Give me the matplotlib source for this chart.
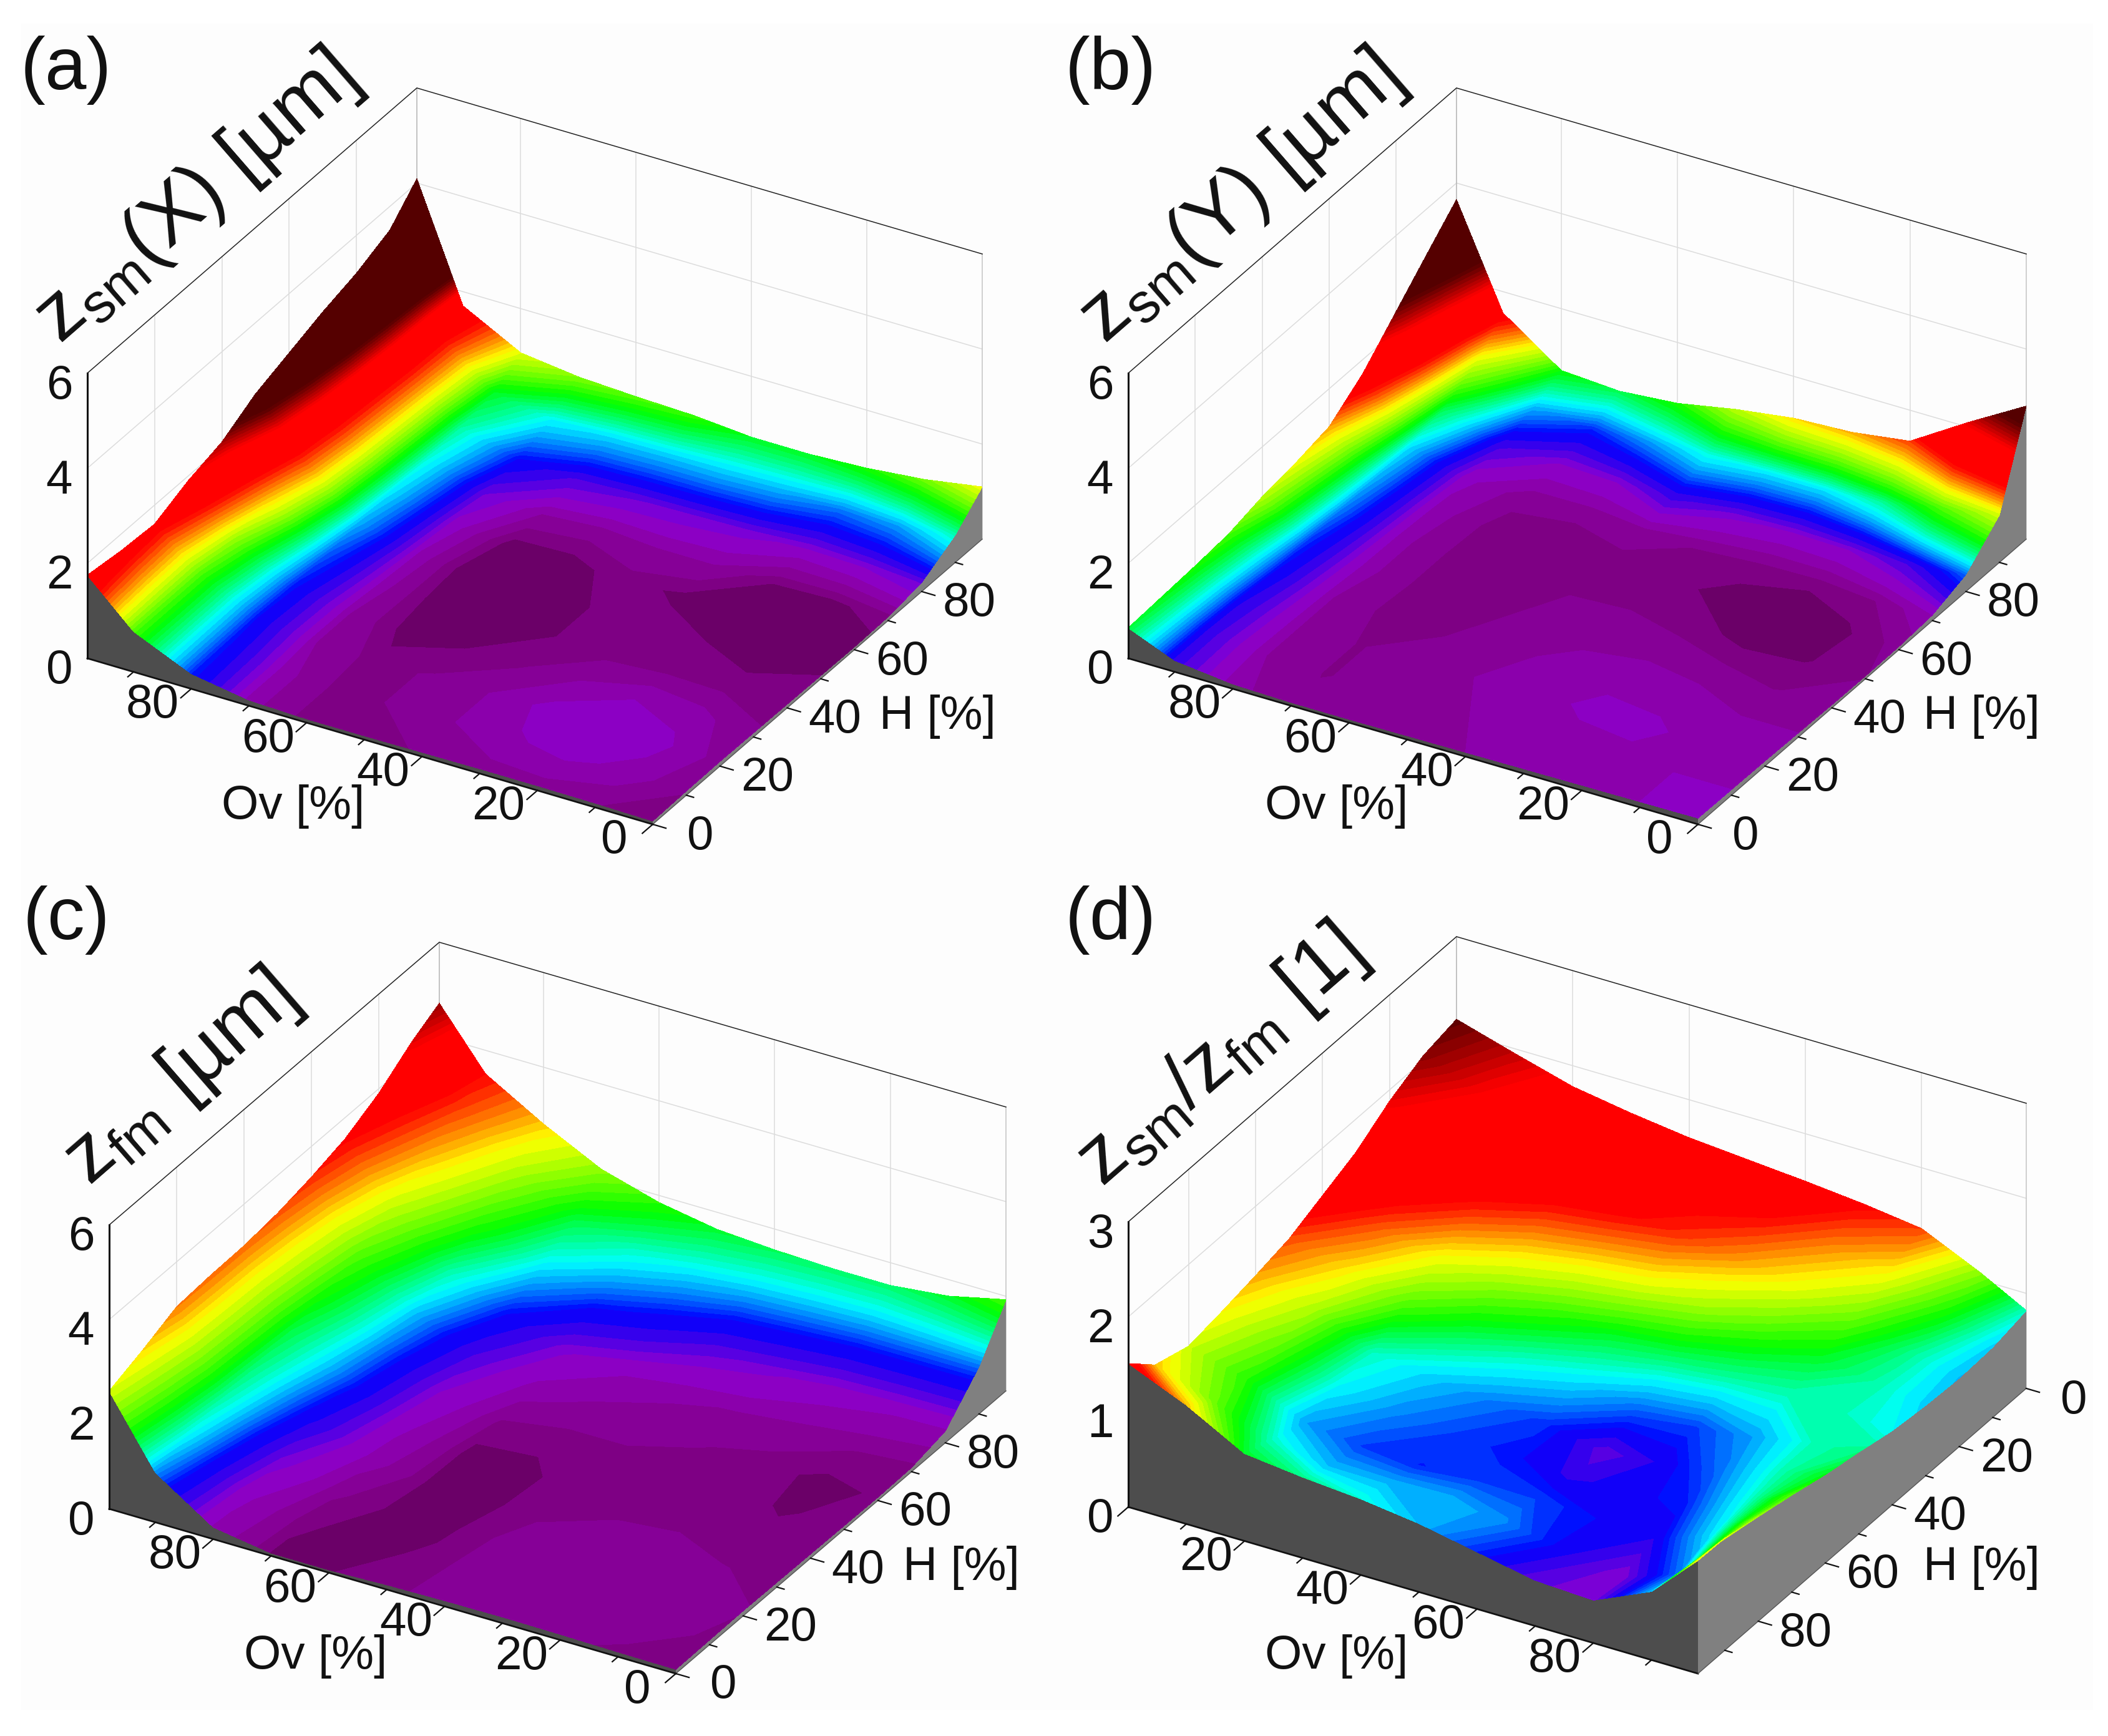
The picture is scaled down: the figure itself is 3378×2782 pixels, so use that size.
from __future__ import annotations

import matplotlib

matplotlib.use("Agg")

import numpy as np
from matplotlib import pyplot as plt
from matplotlib.colors import to_rgb
from matplotlib.patches import Polygon, Rectangle

WIDTH, HEIGHT = 3378, 2782

plt.rcParams["font.family"] = ["Liberation Sans", "DejaVu Sans"]
plt.rcParams["mathtext.fontset"] = "custom"
plt.rcParams["mathtext.rm"] = "Liberation Sans"
plt.rcParams["mathtext.default"] = "regular"

# grid nodes of the surfaces, rows are H, columns are Ov
OV_NODES = [0, 10, 20, 30, 40, 50, 60, 70, 80, 90, 98]
H_NODES = [0, 10, 20, 30, 40, 50, 60, 70, 80, 90, 98]
TICKS_MAJOR = [0, 20, 40, 60, 80]
TICKS_MINOR = [10, 30, 50, 70, 90]

Z_A = [
    [0.07, 0.09, 0.10, 0.10, 0.09, 0.08, 0.08, 0.12, 0.32, 0.85, 1.75],
    [0.09, 0.125, 0.14, 0.13, 0.11, 0.09, 0.08, 0.12, 0.31, 0.85, 1.65],
    [0.10, 0.14, 0.155, 0.14, 0.11, 0.09, 0.08, 0.11, 0.30, 0.85, 1.60],
    [0.09, 0.12, 0.13, 0.11, 0.085, 0.07, 0.06, 0.11, 0.31, 0.95, 1.90],
    [0.08, 0.08, 0.08, 0.08, 0.07, 0.05, 0.05, 0.12, 0.36, 1.20, 2.10],
    [0.07, 0.06, 0.07, 0.08, 0.07, 0.05, 0.04, 0.13, 0.44, 1.45, 2.50],
    [0.06, 0.05, 0.055, 0.065, 0.08, 0.06, 0.06, 0.15, 0.50, 1.55, 2.75],
    [0.08, 0.065, 0.07, 0.11, 0.11, 0.10, 0.11, 0.19, 0.55, 1.60, 3.00],
    [0.19, 0.16, 0.15, 0.17, 0.18, 0.19, 0.21, 0.30, 0.60, 1.65, 3.20],
    [0.58, 0.42, 0.38, 0.44, 0.46, 0.46, 0.47, 0.52, 0.72, 1.65, 3.50],
    [1.10, 0.90, 0.78, 0.72, 0.72, 0.82, 0.86, 0.92, 1.07, 1.70, 4.09],
]
Z_B = [
    [0.13, 0.12, 0.11, 0.10, 0.09, 0.08, 0.07, 0.07, 0.10, 0.24, 0.64],
    [0.12, 0.12, 0.115, 0.11, 0.10, 0.08, 0.07, 0.06, 0.09, 0.24, 0.68],
    [0.11, 0.11, 0.125, 0.125, 0.11, 0.09, 0.07, 0.06, 0.09, 0.26, 0.72],
    [0.09, 0.09, 0.11, 0.115, 0.10, 0.08, 0.06, 0.05, 0.09, 0.30, 0.78],
    [0.07, 0.06, 0.07, 0.08, 0.08, 0.07, 0.05, 0.05, 0.10, 0.33, 0.95],
    [0.06, 0.04, 0.035, 0.05, 0.06, 0.06, 0.05, 0.05, 0.10, 0.38, 1.05],
    [0.07, 0.035, 0.03, 0.035, 0.05, 0.055, 0.05, 0.05, 0.11, 0.42, 1.20],
    [0.12, 0.06, 0.045, 0.05, 0.06, 0.07, 0.065, 0.07, 0.13, 0.46, 1.70],
    [0.36, 0.22, 0.16, 0.15, 0.17, 0.24, 0.16, 0.15, 0.23, 0.62, 2.40],
    [1.00, 0.80, 0.56, 0.46, 0.46, 0.50, 0.40, 0.32, 0.42, 1.00, 3.10],
    [2.80, 2.10, 1.35, 1.18, 1.12, 0.95, 0.72, 0.62, 0.70, 1.55, 3.65],
]
Z_C = [
    [0.09, 0.10, 0.12, 0.13, 0.12, 0.10, 0.06, 0.06, 0.25, 1.05, 2.49],
    [0.10, 0.13, 0.16, 0.16, 0.14, 0.07, 0.05, 0.07, 0.30, 1.25, 2.75],
    [0.11, 0.14, 0.165, 0.165, 0.13, 0.06, 0.05, 0.12, 0.50, 1.40, 3.05],
    [0.10, 0.11, 0.13, 0.12, 0.10, 0.05, 0.05, 0.23, 0.75, 1.50, 3.10],
    [0.09, 0.08, 0.09, 0.09, 0.09, 0.05, 0.05, 0.30, 0.95, 1.60, 3.12],
    [0.08, 0.06, 0.08, 0.09, 0.10, 0.08, 0.09, 0.42, 1.05, 1.80, 3.20],
    [0.07, 0.05, 0.09, 0.11, 0.12, 0.15, 0.23, 0.60, 1.15, 2.00, 3.35],
    [0.09, 0.11, 0.14, 0.17, 0.20, 0.28, 0.45, 0.85, 1.40, 2.40, 3.55],
    [0.25, 0.28, 0.33, 0.45, 0.55, 0.78, 0.95, 1.20, 1.90, 2.90, 3.90],
    [1.00, 1.00, 1.00, 1.05, 1.10, 1.20, 1.35, 1.60, 2.40, 3.30, 4.40],
    [1.93, 1.65, 1.52, 1.52, 1.56, 1.64, 1.85, 2.20, 2.80, 3.50, 4.71],
]
Z_D = [
    [2.13, 1.95, 1.78, 1.68, 1.60, 1.55, 1.50, 1.44, 1.36, 1.08, 0.82],
    [2.05, 1.85, 1.70, 1.60, 1.52, 1.46, 1.42, 1.30, 1.20, 0.96, 0.74],
    [1.88, 1.68, 1.55, 1.48, 1.44, 1.38, 1.28, 1.18, 1.05, 0.85, 0.72],
    [1.65, 1.50, 1.38, 1.28, 1.22, 1.18, 1.10, 1.00, 0.92, 0.83, 0.74],
    [1.50, 1.34, 1.18, 1.08, 1.00, 0.92, 0.88, 0.84, 0.82, 0.82, 0.78],
    [1.35, 1.22, 1.02, 0.90, 0.82, 0.76, 0.66, 0.62, 0.70, 0.82, 0.86],
    [1.27, 1.12, 0.82, 0.74, 0.67, 0.61, 0.48, 0.55, 0.66, 0.82, 0.93],
    [1.20, 1.04, 0.78, 0.68, 0.62, 0.59, 0.53, 0.56, 0.60, 0.80, 1.02],
    [1.14, 0.98, 0.70, 0.62, 0.60, 0.62, 0.62, 0.58, 0.54, 0.76, 1.10],
    [1.25, 1.05, 0.82, 0.72, 0.72, 0.72, 0.68, 0.56, 0.44, 0.66, 1.18],
    [1.51, 1.25, 0.92, 0.85, 0.80, 0.72, 0.60, 0.48, 0.45, 0.72, 1.19],
]

# colour scale: same colours in all panels, each panel has its own z at every stop
SCALE_COLORS = ["#5c0056", "#7a007a", "#8a00a0", "#8c00d0", "#0000ff", "#00ffff",
                "#00ff00", "#ffff00", "#ff0000", "#ff0000", "#550000", "#550000"]
SCALE_BANDS = [1, 2, 2, 4, 8, 8, 8, 8, 1, 8, 1]
SCALE_A = [0.025, 0.07, 0.11, 0.16, 0.30, 0.52, 0.76, 1.12, 1.50, 1.95, 2.25, 4.20]
SCALE_B = [0.02, 0.042, 0.09, 0.16, 0.30, 0.48, 0.70, 1.08, 1.45, 2.05, 2.50, 4.00]
SCALE_C = [0.03, 0.065, 0.18, 0.42, 0.85, 1.25, 1.75, 2.65, 3.50, 4.30, 5.00, 5.50]
SCALE_D = [0.20, 0.25, 0.30, 0.44, 0.58, 0.78, 0.95, 1.20, 1.42, 1.85, 2.15, 2.30]

PANELS = [
    {
        "letter": "(a)", "letter_xy": (106, 112),
        "label": "z$_{sm}$(X) [µm]", "label_xy": (315, 318),
        "z": Z_A, "scale": SCALE_A, "z_ticks": [0, 2, 4, 6], "reverse": False,
        "left": (140, 1055), "front": (1046, 1321), "right": (1574, 864), "z_px": 457,
        "ov_xy": (470, 1292), "h_xy": (1502, 1148),
    },
    {
        "letter": "(b)", "letter_xy": (1780, 112),
        "label": "z$_{sm}$(Y) [µm]", "label_xy": (1989, 318),
        "z": Z_B, "scale": SCALE_B, "z_ticks": [0, 2, 4, 6], "reverse": False,
        "left": (1808, 1055), "front": (2721, 1321), "right": (3247, 864), "z_px": 457,
        "ov_xy": (2142, 1292), "h_xy": (3175, 1148),
    },
    {
        "letter": "(c)", "letter_xy": (106, 1474),
        "label": "z$_{fm}$ [µm]", "label_xy": (290, 1730),
        "z": Z_C, "scale": SCALE_C, "z_ticks": [0, 2, 4, 6], "reverse": False,
        "left": (175, 2418), "front": (1083, 2682), "right": (1612, 2229), "z_px": 455,
        "ov_xy": (506, 2654), "h_xy": (1540, 2512),
    },
    {
        "letter": "(d)", "letter_xy": (1780, 1474),
        "label": "z$_{sm}$/z$_{fm}$ [1]", "label_xy": (1956, 1694),
        "z": Z_D, "scale": SCALE_D, "z_ticks": [0, 1, 2, 3], "reverse": True,
        "left": (1808, 2415), "front": (2721, 2682), "right": (3247, 2225), "z_px": 457,
        "ov_xy": (2142, 2654), "h_xy": (3175, 2512),
    },
]


def band_levels(scale: list[float]) -> np.ndarray:
    pieces = [np.geomspace(a, b, n, endpoint=False)
              for a, b, n in zip(scale[:-1], scale[1:], SCALE_BANDS)]
    return np.append(np.concatenate(pieces), scale[-1])


def band_colors(levels: np.ndarray, scale: list[float]) -> list[tuple]:
    rgb = np.array([to_rgb(c) for c in SCALE_COLORS])
    mids = np.log(levels[:-1] * levels[1:]) / 2
    mids = np.concatenate([[np.log(levels[0])], mids, [np.log(levels[-1])]])
    channels = [np.interp(mids, np.log(scale), rgb[:, i]) for i in range(3)]
    return list(zip(*channels))


def draw_panel(ax, panel: dict) -> None:
    left = np.array(panel["left"], dtype=float)
    front = np.array(panel["front"], dtype=float)
    right = np.array(panel["right"], dtype=float)
    back = left + right - front
    z_px = panel["z_px"]
    z_top = panel["z_ticks"][-1]
    span = OV_NODES[-1]

    if panel["reverse"]:
        origin, v_ov, v_h = back, front - left, front - right
        edge = span
    else:
        origin, v_ov, v_h = front, left - front, right - front
        edge = 0
    far = span - edge

    def project(ov, h, z=0.0):
        ov, h, z = np.asarray(ov, float), np.asarray(h, float), np.asarray(z, float)
        x = origin[0] + v_ov[0] * ov / span + v_h[0] * h / span
        y = origin[1] + v_ov[1] * ov / span + v_h[1] * h / span - z * z_px / z_top
        return x, y

    # back walls, grid lines first
    grid = dict(color="#dcdcdc", lw=1.1, zorder=1)
    for t in TICKS_MAJOR[1:]:
        x, y = project(far, t)
        ax.plot([x, x], [y, y - z_px], **grid)
        x, y = project(t, far)
        ax.plot([x, x], [y, y - z_px], **grid)
    for z in panel["z_ticks"][1:-1]:
        dz = z * z_px / z_top
        ax.plot([left[0], back[0], right[0]],
                [left[1] - dz, back[1] - dz, right[1] - dz], **grid)
    ax.plot([back[0], back[0]], [back[1], back[1] - z_px], color="#b8b8b8", lw=1.2, zorder=1)
    ax.plot([right[0], right[0]], [right[1], right[1] - z_px], color="#c8c8c8", lw=1.2, zorder=1)
    ax.plot([left[0], back[0], right[0]],
            [left[1] - z_px, back[1] - z_px, right[1] - z_px], color="#222222", lw=1.1, zorder=2)

    ov_grid, h_grid = np.meshgrid(OV_NODES, H_NODES)
    z_grid = np.array(panel["z"])
    xs, ys = project(ov_grid, h_grid, z_grid)

    # side walls under the surface edges
    index = -1 if panel["reverse"] else 0
    fx, fy = project(ov_grid[index, :], h_grid[index, :])
    sx, sy = xs[index, :], ys[index, :]
    ax.add_patch(Polygon(np.column_stack([np.r_[fx, sx[::-1]], np.r_[fy, sy[::-1]]]),
                         facecolor="#4d4d4d", edgecolor="none", zorder=3))
    fx, fy = project(ov_grid[:, index], h_grid[:, index])
    sx, sy = xs[:, index], ys[:, index]
    ax.add_patch(Polygon(np.column_stack([np.r_[fx, sx[::-1]], np.r_[fy, sy[::-1]]]),
                         facecolor="#808080", edgecolor="none", zorder=3))

    levels = band_levels(panel["scale"])
    ax.contourf(xs, ys, z_grid, levels=levels, colors=band_colors(levels, panel["scale"]),
                extend="both", zorder=4)

    # axis lines
    ax.plot([left[0], front[0]], [left[1], front[1]], color="#111111", lw=2.0, zorder=5)
    ax.plot([front[0], right[0]], [front[1], right[1]], color="#555555", lw=1.0, zorder=5)
    ax.plot([left[0], left[0]], [left[1], left[1] - z_px], color="#111111", lw=2.2, zorder=5)

    # ticks point away from the box
    out_ov = (front - right) / np.linalg.norm(front - right)
    out_h = (front - left) / np.linalg.norm(front - left)
    tick = dict(color="#111111", lw=1.6, zorder=5)
    for values, size in ((TICKS_MAJOR, 22), (TICKS_MINOR, 12)):
        for t in values:
            x, y = project(t, edge)
            ax.plot([x, x + out_ov[0] * size], [y, y + out_ov[1] * size], **tick)
            x, y = project(edge, t)
            ax.plot([x, x + out_h[0] * size], [y, y + out_h[1] * size], **tick)

    num = dict(fontsize=55, ha="center", va="center", color="#111111", zorder=6)
    for t in TICKS_MAJOR:
        if t > 0 or not panel["reverse"]:
            x, y = project(t, edge)
            ax.text(x - 62, y + 27, str(t), **num)
        x, y = project(edge, t)
        ax.text(x + 76, y + 20, str(t), **num)
    for z in panel["z_ticks"]:
        ax.text(left[0] - 45, left[1] - z * z_px / z_top + 21, str(z), **num)

    ax.text(*panel["ov_xy"], "Ov [%]", **num)
    ax.text(*panel["h_xy"], "H [%]", **num)
    ax.text(*panel["letter_xy"], panel["letter"], fontsize=86, ha="center", va="center",
            color="#111111", zorder=6)
    ax.text(*panel["label_xy"], panel["label"], fontsize=92, rotation=41, ha="center",
            va="center", rotation_mode="anchor", color="#111111", zorder=6)


def main() -> None:
    fig = plt.figure(figsize=(WIDTH / 100, HEIGHT / 100), dpi=100)
    ax = fig.add_axes([0, 0, 1, 1])
    ax.set_xlim(0, WIDTH)
    ax.set_ylim(HEIGHT, 0)
    ax.axis("off")
    ax.add_patch(Rectangle((34, 38), 3320, 2702, facecolor="#fdfdfd", edgecolor="none", zorder=0))
    for panel in PANELS:
        draw_panel(ax, panel)
    fig.savefig("out.png", dpi=100, facecolor="white")


if __name__ == "__main__":
    main()
